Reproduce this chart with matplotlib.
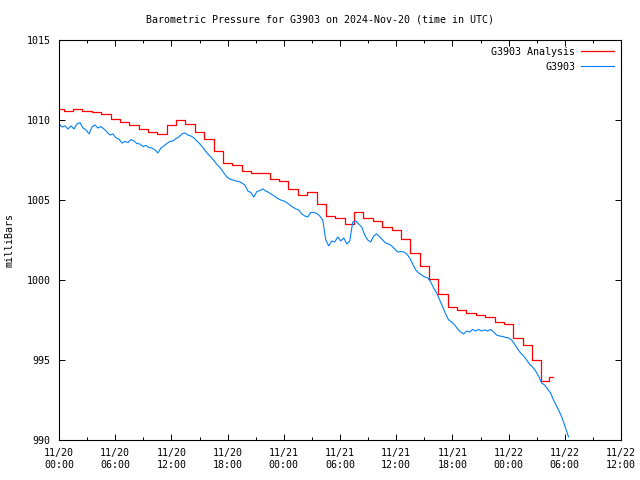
import numpy as np
import matplotlib
matplotlib.use('Agg')
import matplotlib.pyplot as plt

# analysis values, one per hour after 11/20 00:00 UTC (last one partial hour)
analysis_hours = list(range(53)) + [52.7]
analysis_mb = [
    1010.67, 1010.54, 1010.67, 1010.54, 1010.48, 1010.36, 1010.04, 1009.88,
    1009.71, 1009.44, 1009.25, 1009.11, 1009.69, 1009.98, 1009.77, 1009.23,
    1008.79, 1008.04, 1007.29, 1007.19, 1006.79, 1006.69, 1006.69, 1006.29,
    1006.16, 1005.67, 1005.29, 1005.48, 1004.75, 1004.00, 1003.88, 1003.48,
    1004.25, 1003.86, 1003.69, 1003.29, 1003.13, 1002.54, 1001.67, 1000.86,
    1000.04, 999.13, 998.31, 998.13, 997.94, 997.79, 997.67, 997.39,
    997.25, 996.38, 995.92, 995.00, 993.69, 993.96,
]

obs_step_hours = 0.32
obs_mb = [
    1009.75, 1009.56, 1009.63, 1009.44, 1009.63, 1009.44, 1009.75, 1009.84,
    1009.50, 1009.38, 1009.13, 1009.56, 1009.69, 1009.50, 1009.59, 1009.44,
    1009.25, 1009.06, 1009.13, 1008.88, 1008.81, 1008.56, 1008.66, 1008.59,
    1008.78, 1008.69, 1008.53, 1008.50, 1008.34, 1008.41, 1008.28, 1008.25,
    1008.13, 1007.94, 1008.25, 1008.38, 1008.53, 1008.66, 1008.69, 1008.84,
    1008.94, 1009.13, 1009.19, 1009.06, 1009.00, 1008.88, 1008.69, 1008.50,
    1008.28, 1008.03, 1007.81, 1007.63, 1007.38, 1007.16, 1006.97, 1006.69,
    1006.44, 1006.31, 1006.25, 1006.19, 1006.16, 1006.06, 1005.94, 1005.56,
    1005.47, 1005.19, 1005.53, 1005.59, 1005.69, 1005.56, 1005.47, 1005.34,
    1005.22, 1005.09, 1005.00, 1004.94, 1004.84, 1004.69, 1004.56, 1004.44,
    1004.38, 1004.13, 1004.00, 1003.94, 1004.22, 1004.22, 1004.16, 1004.00,
    1003.75, 1002.50, 1002.13, 1002.44, 1002.38, 1002.69, 1002.44, 1002.63,
    1002.25, 1002.44, 1003.63, 1003.69, 1003.50, 1003.31, 1002.81, 1002.50,
    1002.38, 1002.75, 1002.88, 1002.69, 1002.50, 1002.31, 1002.25, 1002.13,
    1001.94, 1001.75, 1001.78, 1001.75, 1001.63, 1001.38, 1001.00, 1000.63,
    1000.44, 1000.31, 1000.19, 1000.13, 999.88, 999.50, 999.19, 998.75,
    998.31, 997.88, 997.50, 997.38, 997.19, 996.94, 996.75, 996.63,
    996.81, 996.75, 996.91, 996.81, 996.91, 996.81, 996.88, 996.81,
    996.91, 996.75, 996.56, 996.50, 996.47, 996.41, 996.38, 996.25,
    996.00, 995.69, 995.44, 995.25, 995.00, 994.75, 994.56, 994.31,
    994.00, 993.56, 993.44, 993.19, 992.94, 992.50, 992.13, 991.75,
    991.31, 990.75, 990.19,
]
obs_hours = np.arange(len(obs_mb)) * obs_step_hours

xtick_hours = [0, 6, 12, 18, 24, 30, 36, 42, 48, 54, 60]
xtick_labels = ['11/20\n00:00', '11/20\n06:00', '11/20\n12:00', '11/20\n18:00',
                '11/21\n00:00', '11/21\n06:00', '11/21\n12:00', '11/21\n18:00',
                '11/22\n00:00', '11/22\n06:00', '11/22\n12:00']
ytick_vals = [990, 995, 1000, 1005, 1010, 1015]

plt.rcParams['font.family'] = 'DejaVu Sans Mono'
plt.rcParams['font.size'] = 7.2

fig = plt.figure(figsize=(6.4, 4.8), dpi=100)
ax = fig.add_axes([59 / 640, 40 / 480, 562 / 640, 400 / 480])

ax.plot(analysis_hours, analysis_mb, color='#ff0000', lw=0.9,
        drawstyle='steps-mid', label='G3903 Analysis')
ax.plot(obs_hours, obs_mb, color='#0080ff', lw=0.8, label='G3903')

ax.set_xlim(0, 60)
ax.set_ylim(990, 1015)
ax.set_xticks(xtick_hours)
ax.set_xticklabels(xtick_labels)
ax.set_xticks(np.arange(3, 60, 6), minor=True)
ax.set_yticks(ytick_vals)
ax.set_yticklabels([str(v) for v in ytick_vals])

ax.tick_params(which='both', direction='in', top=True, right=True, width=0.7)
ax.tick_params(which='major', length=4)
ax.tick_params(which='minor', length=2.5)
ax.tick_params(axis='x', pad=6)
ax.tick_params(axis='y', pad=6)
for s in ax.spines.values():
    s.set_linewidth(0.8)

ax.set_ylabel('milliBars', labelpad=9)
fig.text(0.5, 1 - 19 / 480, 'Barometric Pressure for G3903 on 2024-Nov-20 (time in UTC)',
         ha='center', va='center')

ax.legend(loc='upper right', frameon=False, markerfirst=False, handlelength=3.3,
          labelspacing=0.5, borderaxespad=0.3, handletextpad=0.6)

fig.savefig('out.png', dpi=100)
